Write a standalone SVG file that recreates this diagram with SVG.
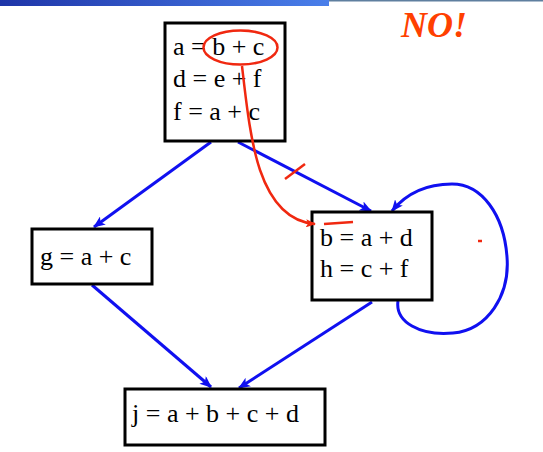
<svg xmlns="http://www.w3.org/2000/svg" width="543" height="452" viewBox="0 0 543 452">
<style>
.box{fill:#fff;stroke:#000;stroke-width:3}
.t{font-family:"Liberation Serif","Times New Roman",serif;font-size:26px;fill:#000}
.edge{fill:none;stroke:#1010F0;stroke-width:3}
.red{fill:none;stroke:#F02810;stroke-width:2.5}
</style>
<defs>
<linearGradient id="bar" x1="0" y1="0" x2="1" y2="0">
<stop offset="0" stop-color="#1E35A8"/>
<stop offset="1" stop-color="#4A7FEA"/>
</linearGradient>
<marker id="ab" viewBox="0 0 12 10" refX="11" refY="5" markerWidth="12" markerHeight="10" markerUnits="userSpaceOnUse" orient="auto">
<path d="M0,0 L12,5 L0,10 L3,5 Z" fill="#1010F0"/>
</marker>
<marker id="ar" viewBox="0 0 10 8" refX="9" refY="4" markerWidth="10" markerHeight="8" markerUnits="userSpaceOnUse" orient="auto">
<path d="M0,0 L10,4 L0,8 L2,4 Z" fill="#F02810"/>
</marker>
</defs>
<rect x="0" y="0" width="329" height="6" fill="url(#bar)"/>
<rect x="329" y="0" width="214" height="1.5" fill="#5F7F9F"/>
<text x="401" y="37" font-family="Liberation Serif,serif" font-size="36" font-weight="bold" font-style="italic" fill="#FF4000">NO!</text>
<g id="connectors">
<line class="edge" x1="211" y1="142" x2="94" y2="227" marker-end="url(#ab)"/>
<line class="edge" x1="238" y1="142" x2="371" y2="211" marker-end="url(#ab)"/>
<line class="edge" x1="92" y1="285" x2="211" y2="387" marker-end="url(#ab)"/>
<line class="edge" x1="372" y1="302" x2="239" y2="388" marker-end="url(#ab)"/>
<path class="edge" d="M398,301 C395,322 420,336 453,333 C488,330 510,295 507,257 C504,215 482,184 452,184 C425,184 405,195 392,211" marker-end="url(#ab)"/>
</g>
<g id="n1">
<rect class="box" x="165" y="23" width="120" height="118"/>
<text class="t" x="173" y="55">a = b + c</text>
<text class="t" x="173" y="87">d = e + f</text>
<text class="t" x="173" y="120">f = a + c</text>
</g>
<g id="n2">
<rect class="box" x="32" y="229" width="120" height="55"/>
<text class="t" x="40" y="265">g = a + c</text>
</g>
<g id="n3">
<rect class="box" x="312" y="212" width="120" height="88"/>
<text class="t" x="320" y="246">b = a + d</text>
<text class="t" x="320" y="277">h = c + f</text>
</g>
<g id="n4">
<rect class="box" x="125" y="389" width="200" height="56"/>
<text class="t" x="132" y="422">j = a + b + c + d</text>
</g>
<g id="annotations">
<ellipse class="red" cx="240.5" cy="47.5" rx="37" ry="17"/>
<path class="red" d="M242,66 C246,100 250,140 260,170 C272,205 290,222 315,224" marker-end="url(#ar)"/>
<line class="red" x1="285" y1="179" x2="305" y2="164"/>
<path class="red" d="M324,224 L353,222" stroke-width="3"/>
<line class="red" x1="478" y1="241" x2="482" y2="241" stroke-width="1.5"/>
</g>
</svg>
